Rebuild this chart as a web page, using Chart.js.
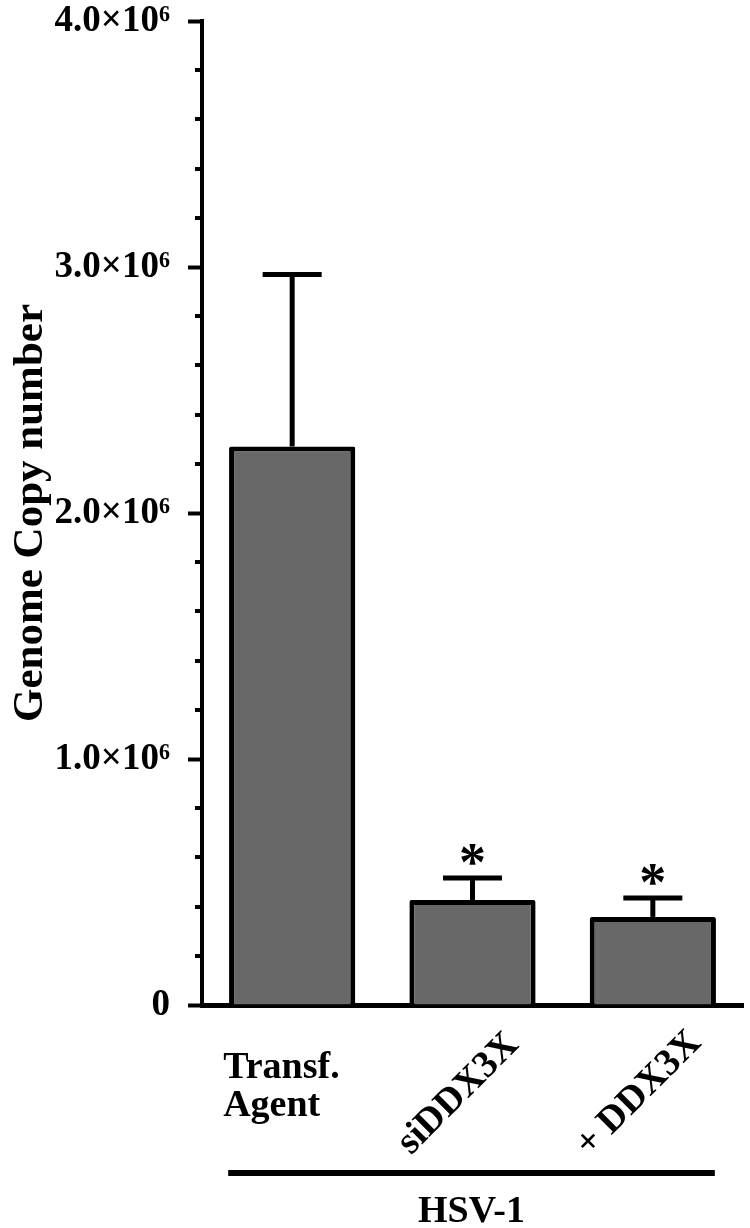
<!DOCTYPE html>
<html>
<head>
<meta charset="utf-8">
<script src="https://cdn.jsdelivr.net/npm/chart.js@4"></script>
<style>
  body { margin: 0; background: #fff; }
  canvas { display: block; }
</style>
</head>
<body>
<canvas id="copyChart" width="750" height="1228"></canvas>
<script>
// values
const categories = ['Transf. Agent', 'siDDX3X', '+ DDX3X'];
const categoryLines = [['Transf.', 'Agent'], ['siDDX3X'], ['+ DDX3X']];
const rotatedLabel = [false, true, true];
const copyNumbers = [2270000, 427000, 358000];
const errorUp = [700000, 89000, 77000];
const significance = ['', '*', '*'];
const yMajorTicks = [0, 1000000, 2000000, 3000000, 4000000];
const yMinorStep = 200000;
const groupLabel = 'HSV-1';
const yTitle = 'Genome Copy number';

const serif = '"Liberation Serif", "Times New Roman", serif';

function tickLabel(v) {
    if (v === 0) return '0';
    return (v / 1000000).toFixed(1) + '×10⁶';
}

// error bars, asterisks, minor ticks, category labels and the HSV-1 bracket
const extrasPlugin = {
    id: 'extras',
    afterDatasetsDraw(chart) {
        const ctx = chart.ctx;
        const x = chart.scales.x;
        const y = chart.scales.y;
        const meta = chart.getDatasetMeta(0);

        ctx.save();
        ctx.strokeStyle = '#000';
        ctx.fillStyle = '#000';

        // error bars (upper only)
        meta.data.forEach((bar, i) => {
            const cx = bar.x;
            const top = y.getPixelForValue(copyNumbers[i]);
            const cap = y.getPixelForValue(copyNumbers[i] + errorUp[i]);
            ctx.lineWidth = 5;
            ctx.beginPath();
            ctx.moveTo(cx, top);
            ctx.lineTo(cx, cap);
            ctx.stroke();
            ctx.beginPath();
            ctx.moveTo(cx - 29.5, cap);
            ctx.lineTo(cx + 29.5, cap);
            ctx.stroke();

            if (significance[i]) {
                ctx.font = 'bold 54px ' + serif;
                ctx.textAlign = 'center';
                ctx.textBaseline = 'alphabetic';
                ctx.fillText(significance[i], cx, cap + 2);
            }
        });

        // minor ticks on the y axis
        ctx.lineWidth = 4;
        for (let v = yMinorStep; v < y.max; v += yMinorStep) {
            if (yMajorTicks.some(m => Math.abs(m - v) < 1)) continue;
            const py = Math.round(y.getPixelForValue(v));
            ctx.beginPath();
            ctx.moveTo(chart.chartArea.left - 7, py);
            ctx.lineTo(chart.chartArea.left, py);
            ctx.stroke();
        }

        // category labels
        ctx.font = 'bold 38px ' + serif;
        categoryLines.forEach((lines, i) => {
            const cx = x.getPixelForValue(i);
            if (!rotatedLabel[i]) {
                ctx.textAlign = 'left';
                ctx.textBaseline = 'alphabetic';
                lines.forEach((t, k) => {
                    ctx.fillText(t, cx - 69, 1078 + k * 38);
                });
            } else {
                ctx.save();
                ctx.translate(cx - 14, 1094);
                ctx.rotate(-Math.PI / 4);
                ctx.textAlign = 'center';
                ctx.textBaseline = 'middle';
                ctx.fillText(lines[0], 0, 0);
                ctx.restore();
            }
        });

        // group bracket
        const x0 = x.getPixelForValue(0) - 64;
        const x1 = x.getPixelForValue(categories.length - 1) + 62;
        ctx.lineWidth = 6;
        ctx.beginPath();
        ctx.moveTo(x0, 1173);
        ctx.lineTo(x1, 1173);
        ctx.stroke();
        ctx.textAlign = 'center';
        ctx.textBaseline = 'alphabetic';
        ctx.fillText(groupLabel, (x0 + x1) / 2, 1222);

        ctx.restore();
    }
};

const ctx = document.getElementById('copyChart').getContext('2d');
const copyChart = new Chart(ctx, {
    type: 'bar',
    data: {
        labels: categories,
        datasets: [{
            data: copyNumbers,
            backgroundColor: '#686868',
            borderColor: '#000',
            borderWidth: 5,
            borderRadius: 2,
            categoryPercentage: 1,
            barPercentage: 0.7
        }]
    },
    options: {
        responsive: false,
        animation: false,
        layout: {
            padding: { top: 21, right: 7, bottom: 223, left: 0 }
        },
        plugins: {
            legend: { display: false },
            tooltip: { enabled: false }
        },
        scales: {
            x: {
                grid: { display: false, drawTicks: false },
                ticks: { display: false },
                border: { display: true, color: '#000', width: 5 }
            },
            y: {
                min: 0,
                max: 4000000,
                afterFit: function (scale) {
                    scale.width = 202;
                    scale.paddingTop = 0;
                    scale.paddingBottom = 0;
                },
                afterBuildTicks: function (scale) {
                    scale.ticks = yMajorTicks.map(v => ({ value: v }));
                },
                grid: {
                    drawOnChartArea: false,
                    drawTicks: true,
                    tickLength: 14,
                    tickWidth: 4,
                    tickColor: '#000'
                },
                border: { display: true, color: '#000', width: 4 },
                ticks: {
                    color: '#000',
                    padding: 18,
                    font: { family: serif, size: 37, weight: 'bold' },
                    callback: function (v) { return tickLabel(v); }
                },
                title: {
                    display: true,
                    text: yTitle,
                    color: '#000',
                    padding: { top: 5, bottom: 0 },
                    font: { family: serif, size: 43, weight: 'bold' }
                }
            }
        }
    },
    plugins: [extrasPlugin]
});
</script>
</body>
</html>
